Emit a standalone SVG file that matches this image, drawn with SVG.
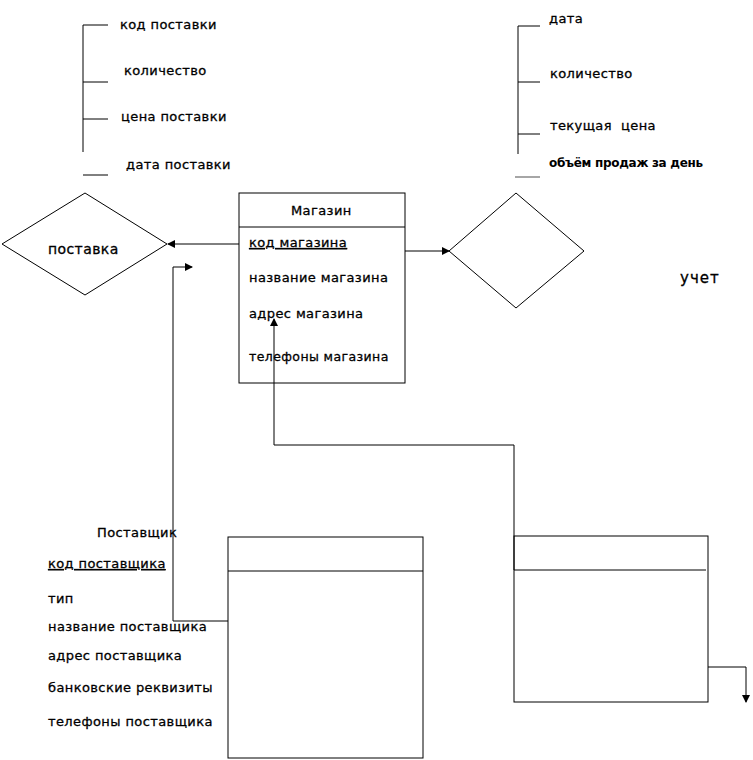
<svg xmlns="http://www.w3.org/2000/svg" width="753" height="760" viewBox="0 0 753 760">
<defs>
<style>
.t{font-family:"DejaVu Sans","Liberation Sans",sans-serif;font-size:13px;fill:#000;stroke:#000;stroke-width:0.3px;letter-spacing:0.4px}
.b{font-family:"DejaVu Sans","Liberation Sans",sans-serif;font-size:12px;font-weight:bold;fill:#000;letter-spacing:-0.3px}
.u{text-decoration:underline}
.s{fill:none;stroke:#000;stroke-width:1}
.g{fill:none;stroke:#888;stroke-width:1.5}
.sh{fill:#fff;stroke:#000;stroke-width:1}
</style>
<marker id="ah" markerWidth="8" markerHeight="8" refX="7" refY="4" orient="auto" markerUnits="userSpaceOnUse">
<path d="M0,0 L8,4 L0,8 Z" fill="#000"/>
</marker>
</defs>
<rect width="753" height="760" fill="#fff"/>

<g id="attrs-postavka">
<path class="s" d="M83,25 V152 M83,25 H108 M83,82 H108 M83,119 H108 M83,175 H108"/>
<text class="t" x="120" y="29">код поставки</text>
<text class="t" x="124" y="75">количество</text>
<text class="t" x="121" y="121">цена поставки</text>
<text class="t" x="126" y="169">дата поставки</text>
</g>

<g id="attrs-uchet">
<path class="s" d="M518,26 V154 M518,26 H540 M518,82 H540 M518,134 H540"/>
<path class="g" d="M515,177 H540"/>
<text class="t" x="549" y="23">дата</text>
<text class="t" x="550" y="78">количество</text>
<text class="t" x="550" y="130" xml:space="preserve">текущая  цена</text>
<text class="b" x="549" y="167">объём продаж за день</text>
</g>

<g id="postavka">
<polygon class="sh" points="2,244 85,193 167,244 85,295"/>
<text class="t" x="48" y="254" style="font-size:14px">поставка</text>
</g>

<g id="uchet">
<polygon class="sh" points="449,251 516,193 584,251 516,308"/>
<text class="t" x="680" y="283" style="font-size:15px;letter-spacing:1px">учет</text>
</g>

<g id="magazin">
<rect class="sh" x="239" y="193" width="166" height="190"/>
<path class="s" d="M239,227 H405"/>
<text class="t" x="291" y="215">Магазин</text>
<text class="t u" x="249" y="247">код магазина</text>
<text class="t" x="249" y="282">название магазина</text>
<text class="t" x="249" y="318">адрес магазина</text>
<text class="t" x="249" y="361" style="font-size:12.5px">телефоны магазина</text>
</g>

<g id="postavshik">
<rect class="sh" x="228" y="537" width="195" height="221"/>
<path class="s" d="M228,571 H423"/>
<text class="t" x="97" y="537">Поставщик</text>
<text class="t u" x="48" y="568">код поставщика</text>
<text class="t" x="48" y="603">тип</text>
<text class="t" x="48" y="631">название поставщика</text>
<text class="t" x="48" y="660">адрес поставщика</text>
<text class="t" x="48" y="692">банковские реквизиты</text>
<text class="t" x="48" y="726">телефоны поставщика</text>
</g>

<g id="entity3">
<rect class="sh" x="514" y="536" width="194" height="166"/>
<path class="s" d="M514,570 H706"/>
</g>

<g id="connectors">
<path class="s" d="M239,244 H168" marker-end="url(#ah)"/>
<path class="s" d="M228,621 H173 V267 H192" marker-end="url(#ah)"/>
<path class="s" d="M405,251 H449" marker-end="url(#ah)"/>
<path class="s" d="M514,570 V445 H274 V319" marker-end="url(#ah)"/>
<path class="s" d="M708,667 H746 V702" marker-end="url(#ah)"/>
</g>
</svg>
